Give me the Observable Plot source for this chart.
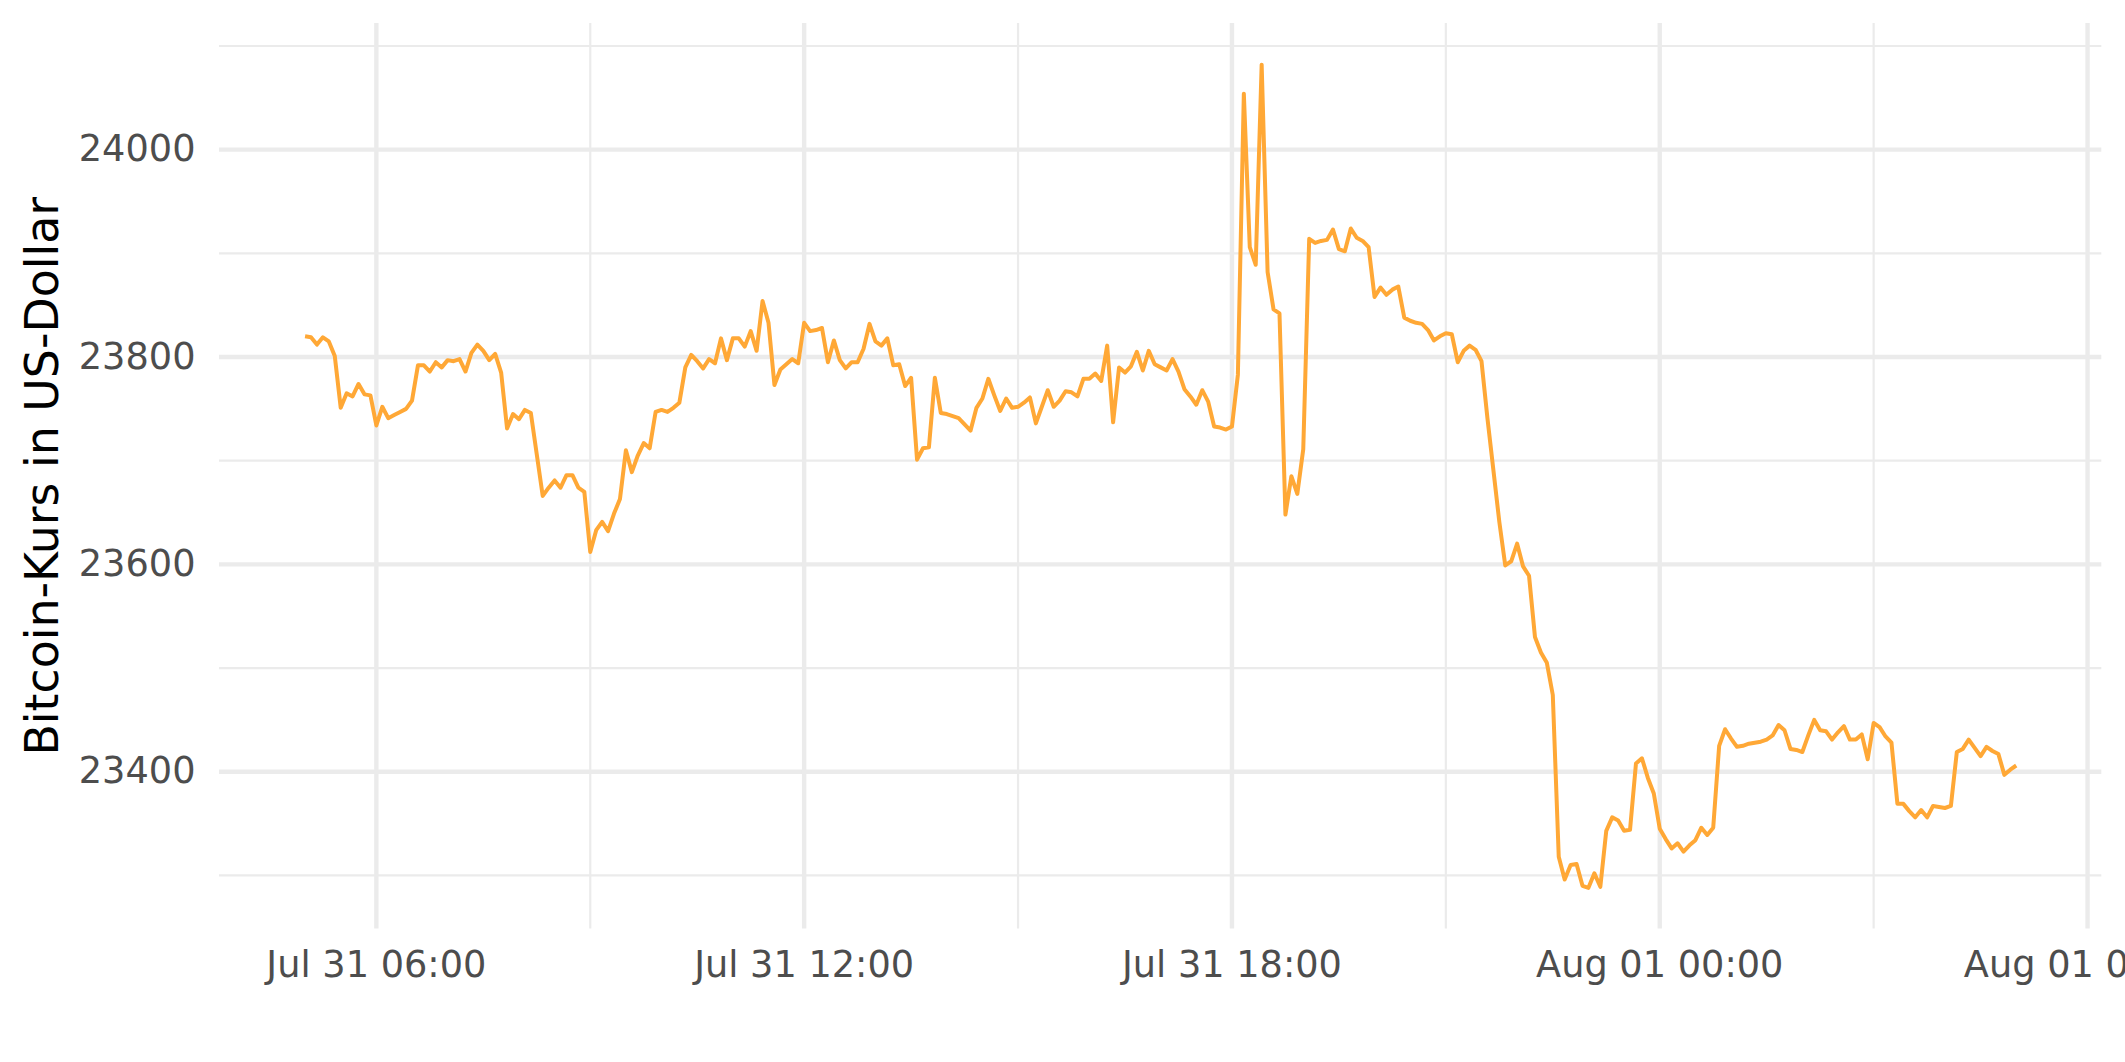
<!DOCTYPE html>
<html>
<head>
<meta charset="utf-8">
<script src="https://cdn.jsdelivr.net/npm/d3@7"></script>
<script src="https://cdn.jsdelivr.net/npm/@observablehq/plot@0.6"></script>
<style>
  html, body { margin: 0; padding: 0; background: #ffffff; overflow: hidden; }
  #chart svg { display: block; }
</style>
</head>
<body>
<div id="chart"></div>
<script>
// ---- data (5-minute Bitcoin prices, Jul 31 05:00 -> Aug 01 05:00 UTC) ----
const startTime = "2022-07-31T05:00:00Z";
const intervalMinutes = 5;
const prices = [
  23820, 23819, 23812, 23819, 23815, 23801, 23751, 23765, 23762, 23774,
  23764, 23763, 23734, 23752, 23741, 23744, 23747, 23750, 23758, 23792,
  23792, 23786, 23795, 23790, 23797, 23796, 23798, 23786, 23804, 23812,
  23806, 23797, 23803, 23785, 23731, 23745, 23740, 23749, 23746, 23706,
  23666, 23674, 23681, 23674, 23686, 23686, 23674, 23670, 23612, 23633,
  23641, 23632, 23649, 23663, 23710, 23689, 23705, 23717, 23712, 23747,
  23749, 23747, 23751, 23756, 23790, 23802, 23796, 23789, 23798, 23794,
  23818, 23797, 23818, 23818, 23810, 23825, 23806, 23854, 23833, 23773,
  23788, 23793, 23798, 23794, 23833, 23825, 23826, 23828, 23795, 23816,
  23797, 23789, 23795, 23795, 23808, 23832, 23815, 23811, 23818, 23792,
  23793, 23772, 23780, 23701, 23712, 23713, 23780, 23746, 23745, 23743,
  23741, 23735, 23729, 23751, 23760, 23779, 23763, 23748, 23760, 23751,
  23752, 23756, 23761, 23736, 23752, 23768, 23752, 23758, 23767, 23766,
  23762, 23779, 23779, 23784, 23777, 23811, 23737, 23790, 23785, 23791,
  23805, 23787, 23806, 23793, 23790, 23787, 23798, 23786, 23769, 23762,
  23754, 23768, 23757, 23733, 23732, 23730, 23733, 23783, 24054, 23906,
  23889, 24082, 23882, 23846, 23842, 23648, 23685, 23668, 23711, 23914,
  23910, 23912, 23913, 23923, 23904, 23902, 23924, 23915, 23912, 23906,
  23858, 23867, 23860, 23865, 23868, 23838, 23835, 23833, 23832, 23826,
  23816, 23820, 23823, 23822, 23795, 23806, 23811, 23807, 23796, 23741,
  23691, 23641, 23599, 23603, 23620, 23598, 23589, 23530, 23515, 23505,
  23474, 23318, 23296, 23310, 23311, 23290, 23288, 23302, 23289, 23343,
  23356, 23353, 23343, 23344, 23408, 23413, 23394, 23379, 23345, 23335,
  23326, 23331, 23323, 23329, 23334, 23346, 23339, 23346, 23425, 23441,
  23432, 23424, 23425, 23427, 23428, 23429, 23431, 23435, 23445, 23440,
  23422, 23421, 23419, 23435, 23450, 23440, 23439, 23431, 23438, 23444,
  23431, 23431, 23436, 23412, 23447, 23443, 23434, 23428, 23369, 23369,
  23362, 23356, 23363, 23356, 23367, 23366, 23365, 23367, 23419, 23422,
  23431, 23423, 23415, 23424, 23420, 23417, 23397, 23402, 23406
];

// ---- ticks ----
const xMajorTicks = [
  "2022-07-31T06:00:00Z", "2022-07-31T12:00:00Z", "2022-07-31T18:00:00Z",
  "2022-08-01T00:00:00Z", "2022-08-01T06:00:00Z"
];
const xMinorTicks = [
  "2022-07-31T09:00:00Z", "2022-07-31T15:00:00Z", "2022-07-31T21:00:00Z",
  "2022-08-01T03:00:00Z"
];
const yMajorTicks = [23400, 23600, 23800, 24000];
const yMinorTicks = [23300, 23500, 23700, 23900, 24100];
const xTickFormat = "%b %d %H:%M";
const yTitle = "Bitcoin-Kurs in US-Dollar";

// ---- build table ----
const t0 = new Date(startTime);
const data = prices.map((p, i) => ({
  time: new Date(t0.getTime() + i * intervalMinutes * 60000),
  price: p
}));
const xMajor = xMajorTicks.map(s => new Date(s));
const xMinor = xMinorTicks.map(s => new Date(s));

// ggplot-style 5% expansion
function expand([a, b]) { const r = b - a; return [a - 0.05 * r, b + 0.05 * r]; }
const xExt = expand(d3.extent(data, d => d.time.getTime())).map(v => new Date(v));
const yExt = expand(d3.extent(data, d => d.price));

const grid = "#EBEBEB";
const tickFont = 36.7;

const chart = Plot.plot({
  width: 2125,
  height: 1062,
  marginLeft: 219,
  marginRight: 23.7,
  marginTop: 23,
  marginBottom: 133.5,
  style: { fontFamily: "DejaVu Sans", background: "#ffffff" },
  x: { type: "utc", domain: xExt },
  y: { domain: yExt },
  marks: [
    Plot.ruleY(yMinorTicks, { stroke: grid, strokeWidth: 2.2 }),
    Plot.ruleX(xMinor, { stroke: grid, strokeWidth: 2.2 }),
    Plot.ruleY(yMajorTicks, { stroke: grid, strokeWidth: 4.4 }),
    Plot.ruleX(xMajor, { stroke: grid, strokeWidth: 4.4 }),
    Plot.line(data, { x: "time", y: "price", stroke: "#FFA836", strokeWidth: 4, strokeLinejoin: "round", strokeLinecap: "butt" }),
    Plot.axisX({
      ticks: xMajor, tickFormat: d3.utcFormat(xTickFormat), tickSize: 0, tickPadding: 22.4,
      fontSize: tickFont, fill: "#4D4D4D", label: null
    }),
    Plot.axisY({
      ticks: yMajorTicks, tickFormat: d3.format("d"), tickSize: 0, tickPadding: 24,
      fontSize: tickFont, fill: "#4D4D4D", label: null
    }),
    Plot.text([yTitle], {
      text: d => d, frameAnchor: "left", dx: -162, rotate: -90,
      lineAnchor: "bottom", textAnchor: "middle", fontSize: 45.8, fill: "#000000"
    })
  ]
});
document.getElementById("chart").appendChild(chart);
</script>
</body>
</html>
